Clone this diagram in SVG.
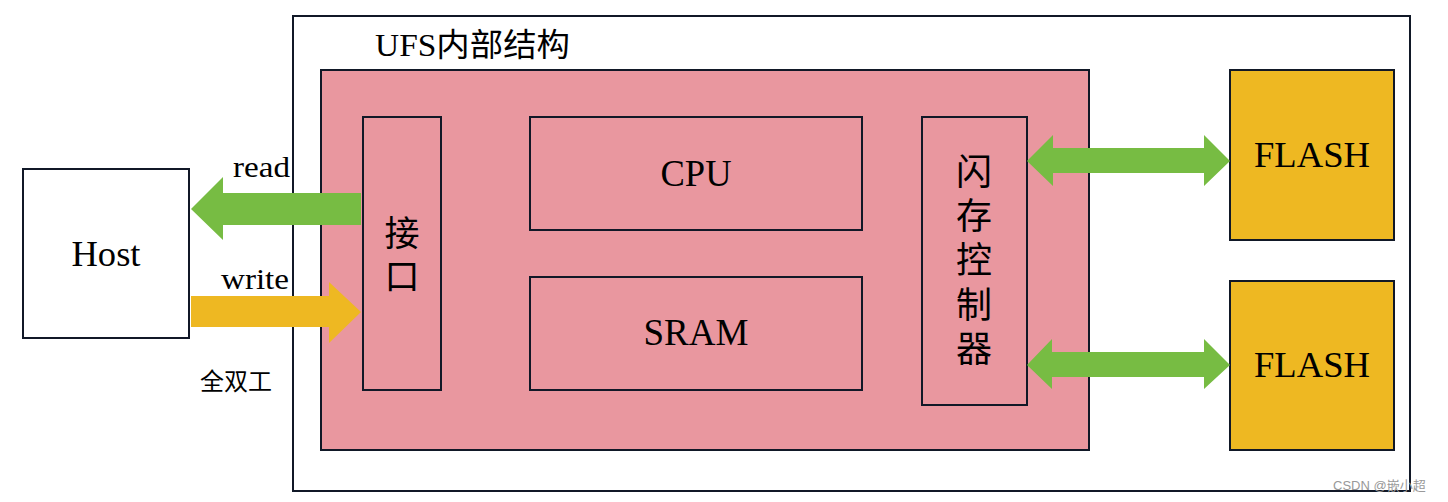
<svg xmlns="http://www.w3.org/2000/svg" width="1448" height="502" viewBox="0 0 1448 502">
<style>
.box{stroke:#111827;stroke-width:2}
.t{font-family:"Liberation Serif","Noto Serif CJK SC","Noto Sans CJK SC",serif;fill:#000}
.c{font-family:"Noto Sans CJK SC",sans-serif;fill:#000}
</style>
<rect width="1448" height="502" fill="#fff"/>
<g id="ufs"><rect class="box" x="293" y="16" width="1117" height="475" fill="#fff"/>
<text class="t" x="375" y="56" font-size="32" textLength="195" lengthAdjust="spacingAndGlyphs">UFS<tspan class="c" font-family="Noto Sans CJK SC,sans-serif">内部结构</tspan></text></g>
<g id="pink"><rect class="box" x="321" y="70" width="768" height="380" fill="#E9979F"/></g>
<g id="host"><rect class="box" x="23" y="169" width="166" height="169" fill="#fff"/><text class="t" x="106" y="266" font-size="36" text-anchor="middle" textLength="69" lengthAdjust="spacingAndGlyphs">Host</text></g>
<g id="iface"><rect class="box" x="363" y="117" width="78" height="273" fill="#E9979F"/>
<text class="c" font-size="35" text-anchor="middle"><tspan x="402" y="246">接</tspan><tspan x="402" y="289">口</tspan></text></g>
<g id="cpu"><rect class="box" x="530" y="117" width="332" height="113" fill="#E9979F"/><text class="t" x="696" y="186" font-size="37" text-anchor="middle" textLength="71" lengthAdjust="spacingAndGlyphs">CPU</text></g>
<g id="sram"><rect class="box" x="530" y="277" width="332" height="113" fill="#E9979F"/><text class="t" x="696" y="345" font-size="37" text-anchor="middle" textLength="105" lengthAdjust="spacingAndGlyphs">SRAM</text></g>
<g id="ctrl"><rect class="box" x="922" y="117" width="105" height="288" fill="#E9979F"/>
<text class="c" font-size="36" text-anchor="middle"><tspan x="974" y="185">闪</tspan><tspan x="974" y="229">存</tspan><tspan x="974" y="273">控</tspan><tspan x="974" y="318">制</tspan><tspan x="974" y="362">器</tspan></text></g>
<g id="flash1"><rect class="box" x="1230" y="70" width="164" height="170" fill="#EEB822"/><text class="t" x="1312" y="167" font-size="36" text-anchor="middle" textLength="116" lengthAdjust="spacingAndGlyphs">FLASH</text></g>
<g id="flash2"><rect class="box" x="1230" y="281" width="164" height="169" fill="#EEB822"/><text class="t" x="1312" y="377" font-size="36" text-anchor="middle" textLength="116" lengthAdjust="spacingAndGlyphs">FLASH</text></g>
<g id="connectors">
<polygon fill="#77BC43" points="361,193 223,193 223,177 191,209 223,240 223,225 361,225"/>
<polygon fill="#EEB822" points="191,296 329,296 329,282 361,312 329,343 329,327 191,327"/>
<polygon fill="#77BC43" points="1027,161 1053,135 1053,148 1204,148 1204,135 1230,161 1204,186 1204,173 1053,173 1053,186"/>
<polygon fill="#77BC43" points="1027,365 1052,339 1052,352 1204,352 1204,339 1230,365 1204,389 1204,377 1052,377 1052,389"/>
<text class="t" x="233" y="177" font-size="30" textLength="57" lengthAdjust="spacingAndGlyphs">read</text>
<text class="t" x="221" y="289" font-size="30" textLength="68" lengthAdjust="spacingAndGlyphs">write</text>
<text class="c" x="200" y="390" font-size="24">全双工</text>
</g>
<text x="1333" y="490" font-family="Liberation Sans,Noto Sans CJK SC,sans-serif" font-size="13" fill="#999">CSDN @嵌小超</text>
</svg>
